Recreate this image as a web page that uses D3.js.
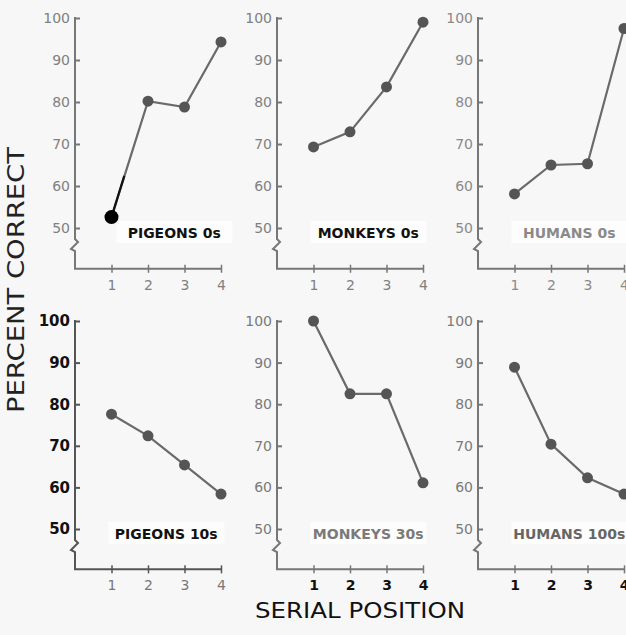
<!DOCTYPE html>
<html>
  <head>
    <style>
    body {
        margin: 0px;
        overflow: hidden;
        background: #f7f7f7;
    }
    text {
        font-family: "DejaVu Sans", sans-serif;
    }
    </style>
    <script src="https://d3js.org/d3.v7.min.js"></script>
  </head>
  <body>
    <svg width="626" height="635"></svg>
    <script>
        // data
        const panelNames = ['PIGEONS 0s', 'MONKEYS 0s', 'HUMANS 0s', 'PIGEONS 10s', 'MONKEYS 30s', 'HUMANS 100s'];
        const serialPositions = [1, 2, 3, 4];
        const pigeons0 = [52.6, 80.2, 78.8, 94.3];
        const monkeys0 = [69.3, 72.9, 83.6, 99];
        const humans0 = [58.1, 65, 65.3, 97.5];
        const pigeons10 = [77.6, 72.4, 65.4, 58.4];
        const monkeys30 = [100, 82.5, 82.5, 61.1];
        const humans100 = [88.9, 70.4, 62.3, 58.4];
        const yTicks = [50, 60, 70, 80, 90, 100];
        const series = [pigeons0, monkeys0, humans0, pigeons10, monkeys30, humans100];

        const svg = d3.select('svg');

        svg.append('rect').attr('x', 0).attr('y', 0).attr('width', 626).attr('height', 635).attr('fill', '#f7f7f7');

        // layout of the 3 x 2 grid
        const colAxisX = [75, 277, 478];
        const rowTop = [18, 321];
        const rowPer10 = [42, 41.6];
        const xSpan = 146;

        // photocopy darkness differs by panel
        const labelColor = ['#111', '#111', '#8a8a8a', '#111', '#7a7a7a', '#666'];
        const yTickColor = ['#808080', '#808080', '#8a8a8a', '#111', '#7a7a7a', '#7a7a7a'];
        const xTickColor = ['#808080', '#808080', '#8a8a8a', '#777', '#111', '#111'];
        const axisColor = ['#777', '#777', '#777', '#555', '#777', '#777'];

        series.forEach((vals, i) => {
            const col = i % 3;
            const row = Math.floor(i / 3);
            const ax = colAxisX[col];
            const y100 = rowTop[row];

            const yScale = d3.scaleLinear()
                .domain([50, 100])
                .range([y100 + rowPer10[row] * 5, y100]);
            const xScale = d3.scaleLinear()
                .domain([0, 4])
                .range([ax, ax + xSpan]);

            const base = yScale(40.3);
            const g = svg.append('g');

            // whiter patch behind the panel label
            const lx = xScale(2.5) + (i === 0 ? 8 : 0);
            const ly = yScale(50) + 10;
            g.append('rect')
                .attr('x', lx - 58).attr('y', ly - 17)
                .attr('width', 116).attr('height', 22)
                .attr('fill', '#fdfdfd');

            // y axis
            const yAxis = d3.axisLeft(yScale)
                .tickValues(yTicks)
                .tickFormat(d3.format('d'))
                .tickSize(-5)
                .tickPadding(5);
            const yAxisG = g.append('g')
                .attr('transform', `translate(${ax},0)`)
                .call(yAxis);
            yAxisG.select('.domain').remove();
            yAxisG.selectAll('.tick line')
                .attr('x1', -1)
                .attr('stroke', axisColor[i])
                .attr('stroke-width', 2);
            yAxisG.selectAll('.tick text')
                .attr('fill', yTickColor[i])
                .attr('font-size', i === 3 ? 15 : 14)
                .attr('font-weight', i === 3 ? 'bold' : 'normal')
                .attr('font-family', '"DejaVu Sans", sans-serif');

            // x axis
            const xAxis = d3.axisBottom(xScale)
                .tickValues(serialPositions)
                .tickFormat(d3.format('d'))
                .tickSize(4)
                .tickPadding(7);
            const xAxisG = g.append('g')
                .attr('transform', `translate(0,${base})`)
                .call(xAxis);
            xAxisG.select('.domain').remove();
            xAxisG.selectAll('.tick line')
                .attr('y1', -4)
                .attr('stroke', axisColor[i])
                .attr('stroke-width', 1.5);
            xAxisG.selectAll('.tick text')
                .attr('fill', xTickColor[i])
                .attr('font-size', 14)
                .attr('font-weight', row === 1 && col > 0 ? 'bold' : 'normal')
                .attr('font-family', '"DejaVu Sans", sans-serif');

            // broken y axis + x axis line
            const yb = yScale(50) + 11;
            const axisPath = d3.path();
            axisPath.moveTo(ax, y100 - 1);
            axisPath.lineTo(ax, yb);
            axisPath.lineTo(ax + 3, yb + 3);
            axisPath.lineTo(ax - 4, yb + 10);
            axisPath.lineTo(ax, yb + 12);
            axisPath.lineTo(ax, base);
            axisPath.lineTo(ax + xSpan + 1, base);
            g.append('path')
                .attr('d', axisPath.toString())
                .attr('fill', 'none')
                .attr('stroke', axisColor[i])
                .attr('stroke-width', 2);

            // data line
            const pts = vals.map((v, k) => ({x: serialPositions[k], y: v}));
            const line = d3.line().x(d => xScale(d.x)).y(d => yScale(d.y));
            g.append('path')
                .datum(pts)
                .attr('d', line)
                .attr('fill', 'none')
                .attr('stroke', '#6a6a6a')
                .attr('stroke-width', 2.2);

            // the first pigeon segment is drawn dark in the copy
            if (i === 0) {
                const mid = {x: (pts[0].x + pts[1].x) / 2 - 0.15, y: (pts[0].y + pts[1].y) / 2 - 4};
                g.append('path')
                    .datum([pts[0], mid])
                    .attr('d', line)
                    .attr('stroke', '#111')
                    .attr('stroke-width', 2.2);
            }

            g.selectAll('circle').data(pts)
                .enter().append('circle')
                    .attr('cx', d => xScale(d.x))
                    .attr('cy', d => yScale(d.y))
                    .attr('r', (d, k) => (i === 0 && k === 0) ? 7 : 5.5)
                    .attr('fill', (d, k) => (i === 0 && k === 0) ? '#000' : '#555');

            // panel label
            g.append('text')
                .text(panelNames[i])
                .attr('x', lx)
                .attr('y', ly)
                .attr('text-anchor', 'middle')
                .attr('font-size', 14)
                .attr('font-weight', 'bold')
                .attr('fill', labelColor[i]);
        });

        // axis titles
        svg.append('text')
            .text('SERIAL POSITION')
            .attr('x', 255)
            .attr('y', 618)
            .attr('textLength', 210)
            .attr('lengthAdjust', 'spacingAndGlyphs')
            .attr('font-size', 21)
            .attr('fill', '#111');

        svg.append('text')
            .text('PERCENT CORRECT')
            .attr('transform', 'translate(24,413) rotate(-90)')
            .attr('textLength', 266)
            .attr('lengthAdjust', 'spacingAndGlyphs')
            .attr('font-size', 23)
            .attr('fill', '#222');
    </script>
  </body>
</html>
